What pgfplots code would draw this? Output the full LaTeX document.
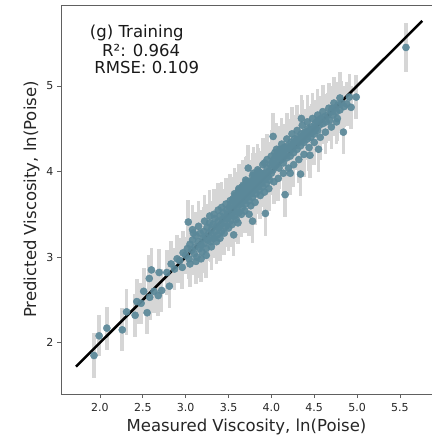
\documentclass[border=0pt]{standalone}
\usepackage{pgfplots}
\pgfplotsset{compat=1.18}
\usepackage{pgfplotstable}
\usepackage{fontspec}
\setmainfont{DejaVu Sans}
\definecolor{pt}{HTML}{5B8899}
\definecolor{eb}{HTML}{D6D6D6}
\definecolor{spine}{HTML}{606060}
\pgfplotstableread{
x y e
1.93 1.85 0.26
1.99 2.08 0.24
2.08 2.17 0.25
2.26 2.15 0.25
2.31 2.36 0.27
2.41 2.32 0.25
2.43 2.48 0.26
2.48 2.46 0.24
2.51 2.60 0.27
2.55 2.35 0.25
2.58 2.53 0.26
2.575 2.75 0.27
2.60 2.85 0.26
2.63 2.60 0.25
2.68 2.55 0.24
2.69 2.82 0.27
2.72 2.61 0.25
2.78 2.82 0.26
2.81 2.66 0.25
2.83 2.92 0.27
2.87 2.86 0.25
2.90 2.98 0.28
2.93 2.96 0.26
2.96 2.88 0.25
2.97 3.05 0.25
3.00 3.02 0.22
3.02 3.10 0.28
3.03 3.41 0.26
3.04 2.98 0.24
3.05 3.15 0.26
3.05 2.92 0.27
3.07 3.08 0.23
3.08 3.20 0.27
3.08 3.32 0.29
3.09 3.28 0.25
3.10 3.04 0.25
3.11 3.12 0.22
3.12 3.25 0.28
3.12 2.95 0.26
3.13 3.00 0.24
3.15 3.18 0.26
3.15 3.36 0.30
3.16 3.10 0.25
3.17 3.28 0.27
3.18 3.14 0.23
3.18 2.98 0.27
3.19 3.06 0.25
3.20 3.22 0.26
3.21 3.30 0.28
3.22 3.16 0.24
3.22 3.42 0.31
3.23 3.24 0.25
3.24 3.10 0.23
3.24 3.02 0.26
3.25 3.35 0.27
3.26 3.20 0.25
3.27 3.28 0.26
3.28 3.40 0.28
3.28 3.48 0.30
3.29 3.18 0.24
3.30 3.32 0.25
3.30 3.12 0.27
3.31 3.25 0.26
3.32 3.38 0.27
3.33 3.22 0.23
3.33 3.50 0.29
3.34 3.45 0.28
3.35 3.30 0.25
3.36 3.36 0.26
3.36 3.18 0.26
3.37 3.26 0.24
3.38 3.42 0.27
3.38 3.55 0.31
3.39 3.34 0.25
3.40 3.48 0.26
3.40 3.22 0.27
3.41 3.38 0.25
3.42 3.30 0.24
3.42 3.58 0.30
3.43 3.44 0.27
3.44 3.52 0.28
3.45 3.40 0.25
3.45 3.28 0.26
3.46 3.47 0.26
3.47 3.36 0.24
3.47 3.62 0.30
3.48 3.55 0.27
3.49 3.45 0.25
3.50 3.50 0.26
3.50 3.34 0.27
3.51 3.58 0.27
3.52 3.42 0.24
3.52 3.66 0.31
3.53 3.62 0.28
3.54 3.50 0.25
3.54 3.38 0.26
3.55 3.56 0.26
3.55 3.68 0.26
3.56 3.66 0.27
3.56 3.26 0.25
3.57 3.48 0.24
3.57 3.74 0.30
3.58 3.60 0.26
3.58 3.72 0.27
3.59 3.70 0.28
3.59 3.44 0.26
3.60 3.55 0.25
3.60 3.62 0.26
3.61 3.64 0.26
3.61 3.40 0.25
3.62 3.52 0.24
3.62 3.80 0.27
3.62 3.78 0.31
3.63 3.72 0.27
3.64 3.62 0.25
3.64 3.74 0.26
3.65 3.68 0.26
3.65 3.50 0.27
3.66 3.58 0.25
3.66 3.82 0.27
3.67 3.76 0.28
3.67 3.84 0.30
3.68 3.66 0.25
3.68 3.76 0.26
3.69 3.72 0.26
3.69 3.54 0.26
3.70 3.62 0.24
3.70 3.90 0.27
3.71 3.80 0.27
3.71 3.88 0.30
3.72 3.70 0.25
3.72 3.84 0.26
3.73 3.76 0.26
3.73 4.04 0.27
3.74 3.66 0.24
3.74 3.50 0.25
3.74 3.88 0.26
3.75 3.84 0.28
3.76 3.74 0.25
3.76 3.60 0.27
3.77 3.80 0.26
3.78 3.70 0.24
3.78 3.42 0.25
3.78 3.95 0.27
3.79 3.88 0.27
3.79 3.98 0.31
3.80 3.78 0.25
3.80 3.92 0.26
3.81 3.84 0.26
3.81 3.64 0.26
3.82 3.74 0.24
3.82 3.96 0.26
3.83 3.90 0.27
3.84 3.82 0.25
3.84 4.02 0.30
3.85 3.88 0.26
3.85 4.00 0.27
3.86 3.78 0.24
3.87 3.94 0.28
3.87 3.72 0.27
3.88 3.86 0.25
3.88 3.98 0.26
3.89 3.92 0.26
3.90 3.82 0.24
3.90 4.08 0.31
3.91 3.98 0.27
3.92 3.90 0.25
3.92 4.10 0.27
3.92 3.76 0.26
3.93 3.96 0.26
3.93 3.51 0.26
3.94 3.86 0.24
3.95 4.04 0.28
3.95 4.14 0.30
3.96 3.94 0.25
3.97 4.00 0.26
3.97 3.80 0.26
3.98 3.90 0.24
3.99 4.08 0.27
4.00 3.98 0.25
4.00 4.18 0.30
4.01 4.10 0.26
4.02 4.02 0.25
4.02 4.41 0.27
4.03 4.14 0.27
4.03 3.88 0.26
4.04 4.06 0.25
4.04 4.22 0.26
4.05 4.18 0.28
4.06 4.08 0.24
4.06 4.26 0.31
4.07 4.20 0.26
4.08 4.12 0.25
4.08 3.92 0.27
4.09 4.04 0.24
4.10 4.16 0.26
4.10 4.26 0.27
4.11 4.24 0.27
4.12 4.14 0.25
4.12 4.32 0.30
4.13 4.22 0.26
4.14 4.10 0.24
4.14 3.98 0.26
4.15 4.28 0.28
4.16 4.18 0.25
4.16 3.73 0.26
4.17 4.26 0.26
4.18 4.16 0.24
4.18 4.38 0.30
4.19 4.30 0.27
4.20 4.22 0.25
4.20 4.04 0.27
4.21 4.28 0.26
4.22 4.18 0.24
4.22 3.98 0.26
4.23 4.34 0.27
4.24 4.26 0.25
4.24 4.44 0.31
4.25 4.32 0.26
4.26 4.22 0.24
4.26 4.08 0.26
4.27 4.38 0.28
4.28 4.30 0.25
4.29 4.36 0.26
4.30 4.26 0.24
4.30 4.48 0.30
4.31 4.40 0.27
4.32 4.34 0.25
4.32 4.14 0.27
4.33 4.38 0.26
4.34 4.30 0.24
4.34 3.97 0.26
4.35 4.44 0.27
4.35 4.62 0.27
4.36 4.36 0.25
4.36 4.54 0.30
4.37 4.42 0.26
4.38 4.34 0.24
4.38 4.20 0.26
4.39 4.46 0.27
4.40 4.40 0.25
4.41 4.46 0.26
4.42 4.38 0.24
4.42 4.58 0.31
4.43 4.50 0.27
4.44 4.44 0.25
4.44 4.28 0.27
4.45 4.48 0.26
4.45 4.19 0.26
4.46 4.40 0.24
4.47 4.52 0.27
4.48 4.46 0.25
4.48 4.62 0.30
4.49 4.50 0.26
4.50 4.44 0.24
4.50 4.34 0.26
4.51 4.56 0.27
4.52 4.50 0.25
4.53 4.58 0.26
4.54 4.48 0.24
4.54 4.66 0.30
4.55 4.60 0.27
4.55 4.26 0.26
4.56 4.54 0.25
4.57 4.40 0.26
4.58 4.62 0.26
4.60 4.56 0.24
4.60 4.70 0.31
4.62 4.64 0.27
4.63 4.46 0.26
4.64 4.58 0.25
4.66 4.66 0.26
4.67 4.74 0.30
4.68 4.60 0.24
4.70 4.70 0.27
4.70 4.52 0.26
4.71 4.74 0.26
4.72 4.66 0.25
4.73 4.80 0.30
4.74 4.74 0.26
4.76 4.70 0.24
4.76 4.58 0.26
4.77 4.62 0.26
4.78 4.78 0.27
4.80 4.72 0.25
4.80 4.86 0.30
4.82 4.80 0.26
4.84 4.46 0.26
4.85 4.76 0.24
4.88 4.79 0.26
4.91 4.87 0.27
4.93 4.75 0.25
4.99 4.87 0.26
5.57 5.45 0.29
}\data
\begin{document}
\begin{tikzpicture}
\begin{axis}[
  name=ax,
  scale only axis,
  width=371pt, height=389pt,
  xmin=1.545, xmax=5.874,
  ymin=1.40, ymax=5.946,
  axis x line*=box,
  axis y line*=left,
  axis line style={spine, line width=0.9pt},
  tick pos=left,
  tick align=outside,
  major tick length=4pt,
  every tick/.style={spine, line width=0.8pt},
  xtick={2.0,2.5,3.0,3.5,4.0,4.5,5.0,5.5},
  ytick={2,3,4,5},
  xticklabels={2.0,2.5,3.0,3.5,4.0,4.5,5.0,5.5},
  yticklabels={2,3,4,5},
  tick label style={font=\fontsize{11}{13}\selectfont, text=black!85},
  xticklabel shift=2pt,
  xlabel={Measured Viscosity, ln(Poise)},
  ylabel={Predicted Viscosity, ln(Poise)},
  label style={font=\fontsize{16.5}{19}\selectfont, text=black!85},
  clip=true,
]
\addplot[draw=none, mark=none,
  error bars/.cd, y dir=both, y explicit,
  error mark=none,
  error bar style={eb, line width=3.6pt}]
  table[x=x, y=y, y error=e]{\data};
\addplot[black, line width=2.6pt] coordinates {(1.72,1.72) (5.76,5.76)};
\addplot[only marks, mark=*, mark size=3.6pt,
  mark options={fill=pt, draw=pt, fill opacity=0.92, draw opacity=0.92}]
  table[x=x, y=y]{\data};
\node[font=\fontsize{16.5}{19}\selectfont, anchor=base, text=black!90] at (axis cs:2.43,5.57) {(g) Training};
\node[font=\fontsize{16.5}{19}\selectfont, anchor=base, text=black!90] at (axis cs:2.48,5.34) {R²: 0.964};
\node[font=\fontsize{16.5}{19}\selectfont, anchor=base, text=black!90] at (axis cs:2.545,5.14) {RMSE: 0.109};
\end{axis}
\pgfresetboundingbox
\path[use as bounding box] ([xshift=-61pt,yshift=-46pt]ax.south west) rectangle ([yshift=5pt]ax.north east);
\end{tikzpicture}
\end{document}
